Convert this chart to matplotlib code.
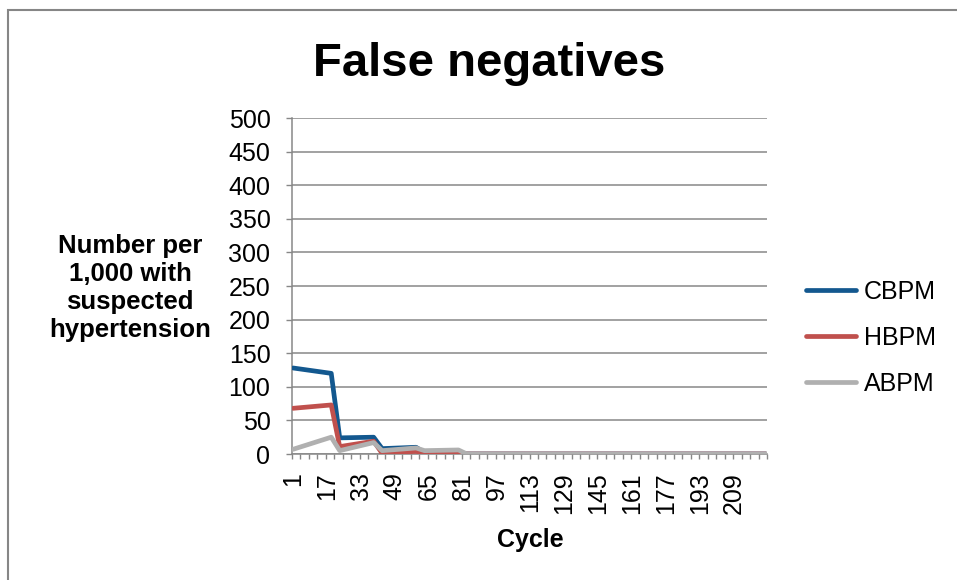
import numpy as np
import matplotlib
matplotlib.use("Agg")
import matplotlib.pyplot as plt
from matplotlib.patches import Rectangle

plt.rcParams['font.family'] = ['Liberation Sans', 'DejaVu Sans']

# cycles where the series change direction (lines join these points)
cycles = [1, 19, 23, 39, 43, 59, 63, 79, 83, 224]
cbpm = [128, 120, 24, 25, 8, 10, 2, 2, 0, 0]
hbpm = [68, 73, 11, 19, 1, 4, 1, 2, 0, 0]
abpm = [7, 25, 5, 17, 5, 9, 5, 6, 0, 0]

n_cycles = 224
tick_labels = list(range(1, 210, 16))
y_ticks = list(range(0, 501, 50))

series = [("CBPM", cbpm, "#13588F"),
          ("HBPM", hbpm, "#C0504D"),
          ("ABPM", abpm, "#B0B0B0")]

W, H = 957, 580
fig = plt.figure(figsize=(W / 100, H / 100), dpi=100)
ax = fig.add_axes([292 / W, 1 - 454 / H, (767 - 292) / W, (454 - 118) / H])

for name, vals, col in series:
    ax.plot(cycles, vals, color=col, lw=3.4, label=name,
            solid_joinstyle='round', solid_capstyle='round', zorder=3)

grid_col = "#878787"
ax.set_xlim(0.5, n_cycles + 0.5)
ax.set_ylim(0, 500)
ax.set_yticks(y_ticks)
ax.yaxis.grid(True, color=grid_col, lw=1.1)
ax.set_axisbelow(True)
for s in ["top", "right"]:
    ax.spines[s].set_visible(False)
for s in ["left", "bottom"]:
    ax.spines[s].set_color(grid_col)
    ax.spines[s].set_linewidth(1.1)

ax.set_xticks(tick_labels)
ax.set_xticklabels([str(t) for t in tick_labels], rotation=90)
ax.set_xticks(np.arange(0.5, n_cycles + 1, 4), minor=True)
ax.tick_params(axis='x', which='major', length=0, pad=13, labelsize=18)
ax.tick_params(axis='x', which='minor', length=3.5, width=1.0, color=grid_col)
ax.tick_params(axis='y', length=4.5, width=1.0, color=grid_col, pad=11, labelsize=18)

fig.text(489 / W, 1 - 76 / H, "False negatives", ha='center', va='baseline',
         fontsize=34, fontweight='bold')
fig.text(130 / W, 1 - 288 / H, "Number per\n1,000 with\nsuspected\nhypertension",
         ha='center', va='center', multialignment='center', fontsize=18.5,
         fontweight='bold', linespacing=1.22)
fig.text(530 / W, 1 - 547 / H, "Cycle", ha='center', va='baseline',
         fontsize=18, fontweight='bold')

ax.legend(loc='center left', bbox_to_anchor=(806 / W, 1 - 338 / H),
          bbox_transform=fig.transFigure, frameon=False, fontsize=18,
          handlelength=2.0, handletextpad=0.3, labelspacing=0.88,
          borderpad=0, borderaxespad=0)

fig.patches.append(Rectangle((8 / W, -0.05), 1.1, 1.05 - 10 / H,
                             transform=fig.transFigure, fill=False,
                             edgecolor="#868686", lw=1.5))

fig.savefig("out.png", dpi=100)
